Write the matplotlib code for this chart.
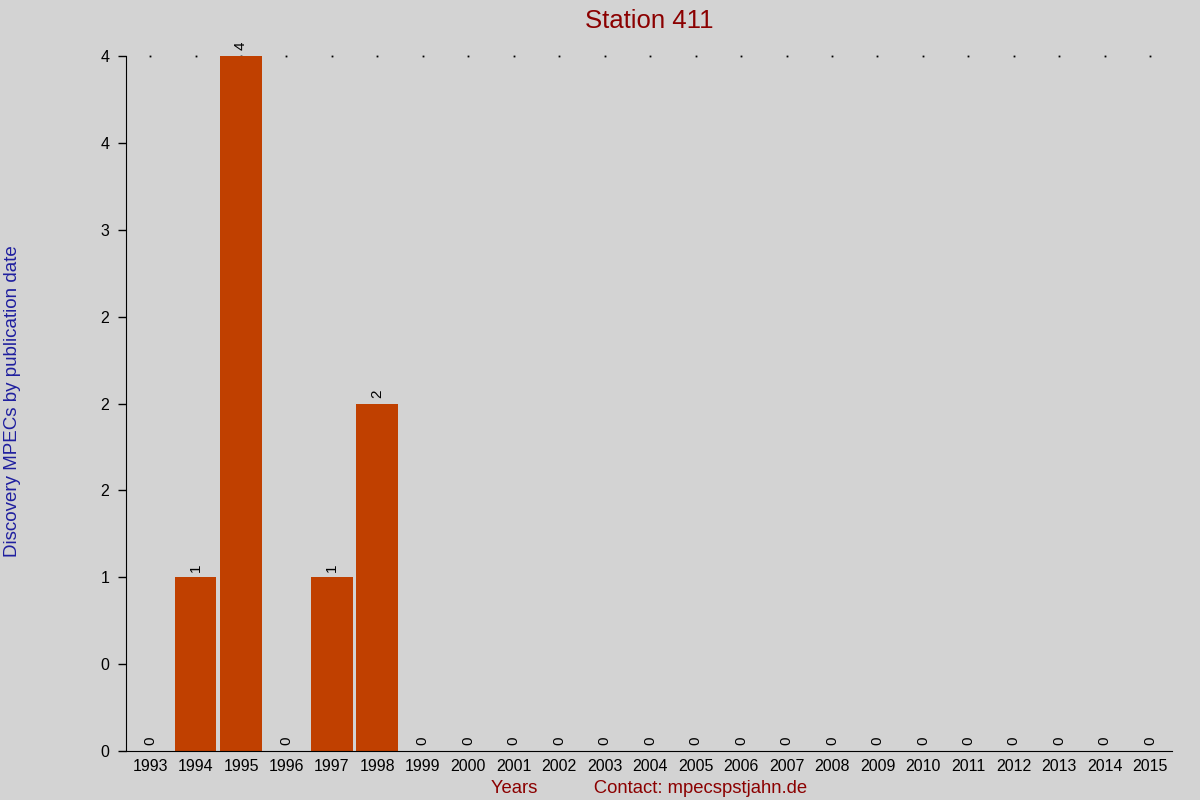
import matplotlib
matplotlib.use('Agg')
import matplotlib.pyplot as plt
from matplotlib.ticker import FuncFormatter, MultipleLocator
import numpy as np

plt.rcParams['font.family'] = ['Liberation Sans', 'DejaVu Sans']

years = [str(y) for y in range(1993, 2016)]
counts = [0, 1, 4, 0, 1, 2, 0, 0, 0, 0, 0, 0, 0, 0, 0, 0, 0, 0, 0, 0, 0, 0, 0]

bg = '#d3d3d3'
bar_color = '#c04000'

fig = plt.figure(figsize=(12, 8), dpi=100, facecolor=bg)
ax = fig.add_axes([0.105, 0.06125, 0.8717, 0.86875], facecolor=bg)

x = np.arange(len(years))
ax.bar(x, counts, width=0.92, color=bar_color, zorder=2)

# value labels above each bar
for xi, c in zip(x, counts):
    ax.annotate(str(c), (xi, c), xytext=(0, 4), textcoords='offset points',
                rotation=90, ha='center', va='bottom', fontsize=11)

ax.set_xlim(-0.53, len(years) - 0.52)
ax.set_ylim(0, max(counts))

# dotted line of points along the top
ax.plot(x, [max(counts)] * len(x), linestyle='none', marker='s',
        markersize=1.3, markeredgewidth=0, color='black', clip_on=False,
        zorder=1)

ax.set_xticks(x)
ax.set_xticklabels(years, fontsize=11.5)
ax.tick_params(axis='x', length=0, pad=6)
ax.yaxis.set_major_locator(MultipleLocator(0.5))
ax.yaxis.set_major_formatter(FuncFormatter(lambda v, p: str(round(v))))
ax.tick_params(axis='y', length=6, width=1, labelsize=11.5, pad=6)

for s in ['top', 'right']:
    ax.spines[s].set_visible(False)

ax.set_title('Station 411', color='#8b0000', fontsize=18.5, pad=20)
fig.text(0.0105, 0.4988, 'Discovery MPECs by publication date', color='#1f1f9f',
         fontsize=13.5, rotation=90, ha='center', va='center')
ax.set_xlabel('Years           Contact: mpecspstjahn.de', color='#8b0000',
              fontsize=13.3, labelpad=4)

fig.savefig('out.png', dpi=100, facecolor=bg)
